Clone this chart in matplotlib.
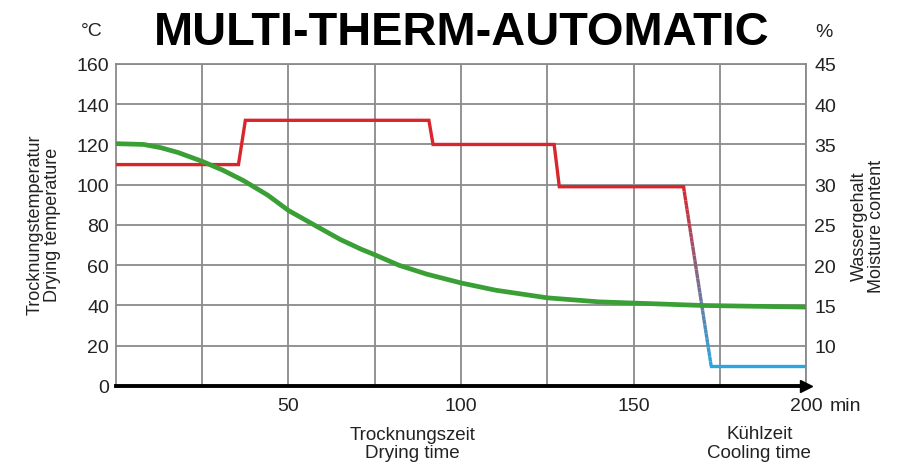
import numpy as np
import matplotlib.pyplot as plt
from matplotlib.collections import LineCollection
from matplotlib.colors import to_rgb

plt.rcParams['font.family'] = ['Liberation Sans', 'DejaVu Sans']

# drying temperature (°C) over time (min)
temp_t = [0, 35.5, 37.5, 90.7, 91.9, 127, 128.5, 164.5]
temp_v = [110, 110, 132, 132, 120, 120, 99, 99]
# cooling drop and cooling phase
cool_t = [164.5, 172.5, 200]
cool_v = [99, 10, 10]
# moisture content (%) over time (min)
moist_t = [0, 8, 13, 18, 25, 31, 37, 44, 50, 58.5, 65, 71, 75, 82, 90, 100, 110, 125, 140, 150, 170, 200]
moist_v = [35.1, 35.0, 34.6, 34.0, 32.9, 31.8, 30.5, 28.7, 26.8, 24.75, 23.2, 22.0, 21.3, 20.0, 18.9, 17.8, 16.9, 15.95, 15.45, 15.3, 15.0, 14.8]

left_ticks = [0, 20, 40, 60, 80, 100, 120, 140, 160]
right_ticks = [10, 15, 20, 25, 30, 35, 40, 45]
x_ticks = [50, 100, 150, 200]

red = '#d8262c'
blue = '#2aa7df'
green = '#3a9f35'
gridc = '#8a8a8a'
txt = '#222222'

fig = plt.figure(figsize=(9.04, 4.64), dpi=100)
ax = fig.add_axes([0.1283, 0.166, 0.7633, 0.694])
ax.set_xlim(0, 200)
ax.set_ylim(0, 160)

ax.set_xticks(x_ticks)
ax.set_xticks(np.arange(25, 200, 25), minor=True)
ax.set_yticks(left_ticks)
ax.grid(True, which='both', color=gridc, linewidth=1.3)
ax.tick_params(axis='x', which='both', length=0, labelsize=14, pad=8, labelcolor=txt)
ax.tick_params(axis='y', length=0, labelsize=14, pad=5, labelcolor=txt)
for s in ['left', 'right', 'top']:
    ax.spines[s].set_color(gridc)
    ax.spines[s].set_linewidth(1.3)
ax.spines['bottom'].set_linewidth(2.8)
ax.spines['bottom'].set_color('black')
ax.spines['bottom'].set_zorder(5)
ax.plot(1.0, 0, '>', color='black', markersize=9, transform=ax.transAxes,
        clip_on=False, zorder=6)

ax.plot(temp_t, temp_v, color=red, linewidth=2.4, solid_joinstyle='miter', zorder=3)

# gradient red -> blue on the cooling drop
tt = np.linspace(cool_t[0], cool_t[1], 40)
vv = np.interp(tt, cool_t[:2], cool_v[:2])
pts = np.column_stack([tt, vv]).reshape(-1, 1, 2)
segs = np.concatenate([pts[:-1], pts[1:]], axis=1)
r0, b0 = np.array(to_rgb(red)), np.array(to_rgb(blue))
fr = np.linspace(0, 1, len(segs))
cols = [r0 * (1 - f) + b0 * f for f in fr]
ax.add_collection(LineCollection(segs, colors=cols, linewidth=2.4, zorder=3))
ax.plot(cool_t[1:], cool_v[1:], color=blue, linewidth=2.4, zorder=3)

ax2 = ax.twinx()
ax2.set_ylim(5, 45)
ax2.set_yticks(right_ticks)
ax2.tick_params(axis='y', length=0, labelsize=14, pad=6, labelcolor=txt)
for s in ax2.spines.values():
    s.set_visible(False)
ax2.plot(moist_t, moist_v, color=green, linewidth=3.4, zorder=4)

fig.text(0.511, 0.903, 'MULTI-THERM-AUTOMATIC', ha='center', va='baseline',
         fontsize=33.8, fontweight='bold')
fig.text(0.1018, 0.9224, '°C', ha='center', va='baseline', fontsize=14, color=txt)
fig.text(0.9115, 0.921, '%', ha='center', va='baseline', fontsize=14, color=txt)
fig.text(0.918, 0.1135, 'min', ha='left', va='baseline', fontsize=14, color=txt)

fig.text(0.0487, 0.515, 'Trocknungstemperatur\nDrying temperature', rotation=90,
         ha='center', va='center', fontsize=13, linespacing=1.0, color=txt)
fig.text(0.960, 0.513, 'Wassergehalt\nMoisture content', rotation=90,
         ha='center', va='center', fontsize=13, linespacing=1.0, color=txt)
fig.text(0.4563, 0.042, 'Trocknungszeit\nDrying time', ha='center', va='center',
         fontsize=13.5, linespacing=1.05, color=txt)
fig.text(0.840, 0.043, 'Kühlzeit\nCooling time', ha='center', va='center',
         fontsize=13.5, linespacing=1.2, color=txt)

fig.savefig('out.png', dpi=100)
